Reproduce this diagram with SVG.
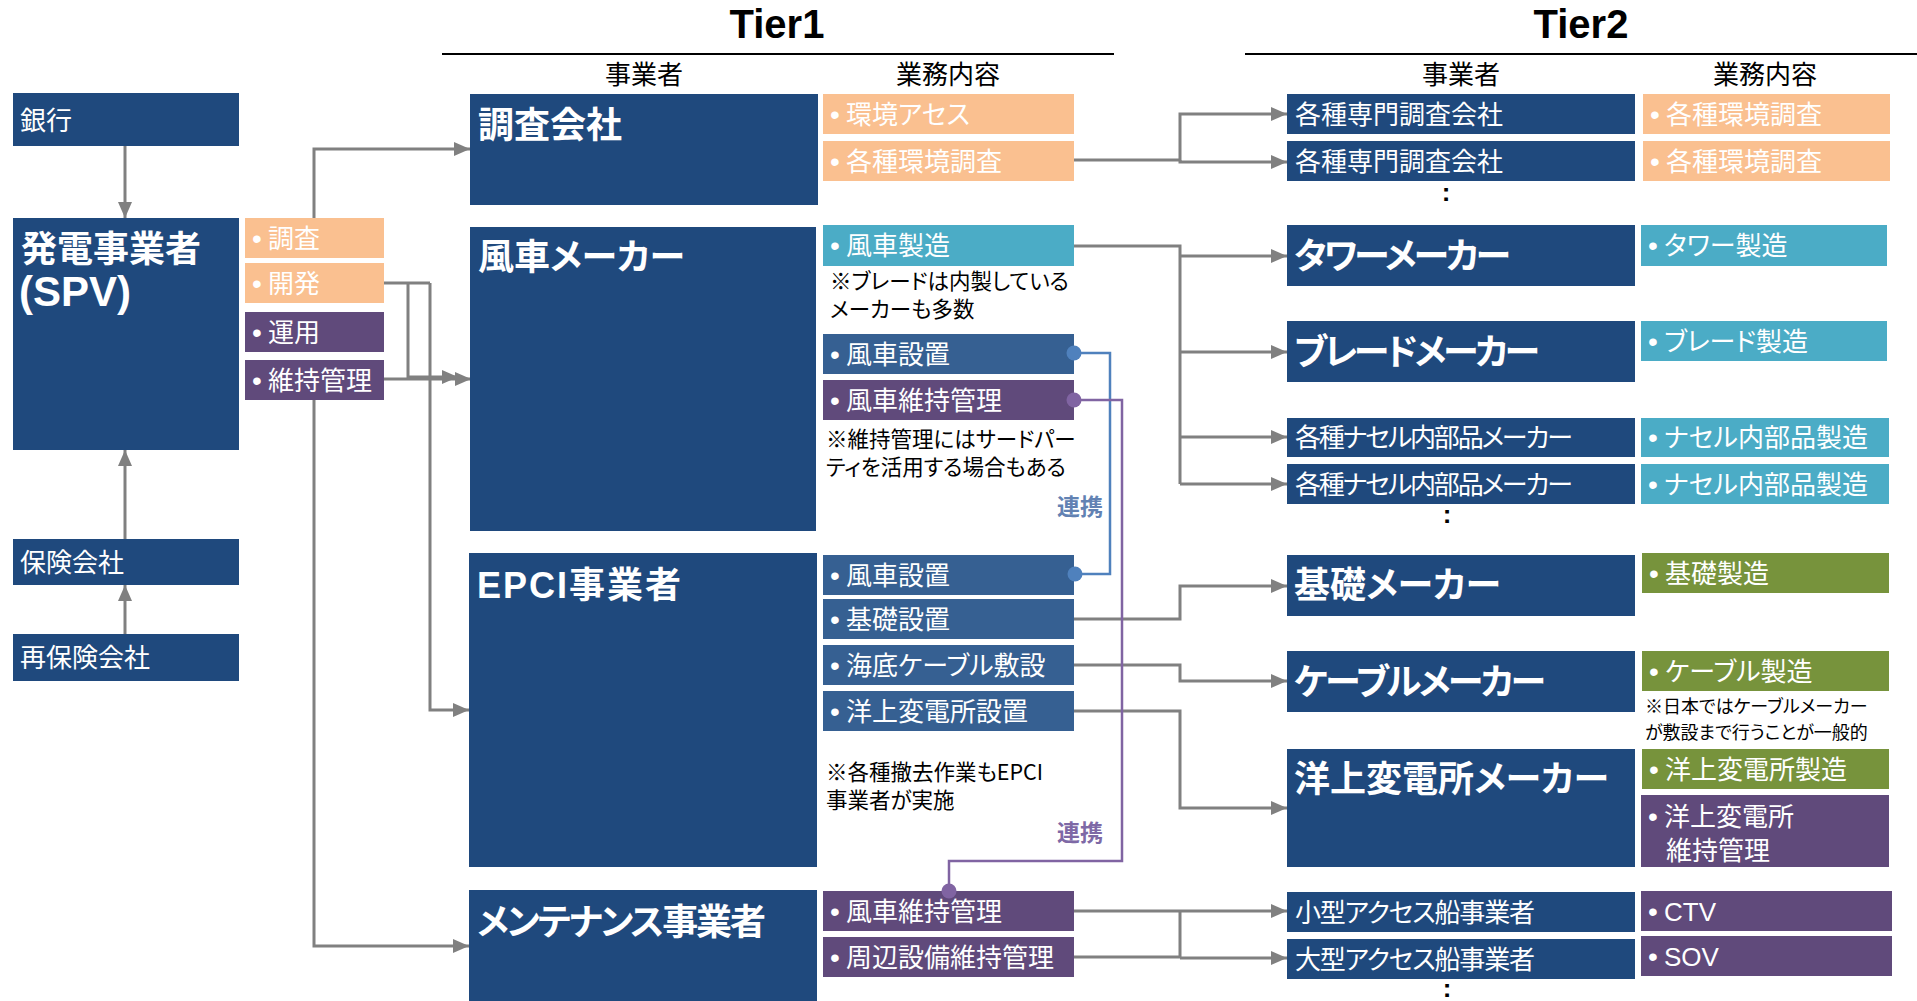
<svg xmlns="http://www.w3.org/2000/svg" width="1917" height="1001" viewBox="0 0 1917 1001">
<style>
text{font-family:"Noto Sans CJK JP","Noto Sans CJK SC",sans-serif;font-feature-settings:"palt";}
.navy{fill:#1f497d}
.peach{fill:#fac090}
.teal{fill:#4bacc6}
.purple{fill:#604a7b}
.mblue{fill:#366092}
.green{fill:#77933c}
.w{fill:#fff;font-size:26px}
.hb{fill:#fff;font-size:36px;font-weight:700}
.note{fill:#000;font-size:21.5px}
.hd{fill:#000;font-size:26px;text-anchor:middle}
.tier{fill:#000;font-family:"Liberation Sans",Arial,sans-serif;font-size:40px;font-weight:700;text-anchor:middle}
.bul{text-anchor:middle;font-family:"Liberation Sans",Arial,sans-serif;font-size:28px}
.lat{font-family:"Liberation Sans",Arial,sans-serif}
.dots{fill:#000;font-family:"Liberation Sans",Arial,sans-serif;font-size:26px;font-weight:700;text-anchor:middle}
.con{fill:none;stroke:#808080;stroke-width:3}
.arr{marker-end:url(#ah)}
.lb{fill:none;stroke:#4f81bd;stroke-width:2.5}
.lp{fill:none;stroke:#8064a2;stroke-width:2.5}
</style>
<defs>
<marker id="ah" markerUnits="userSpaceOnUse" markerWidth="16" markerHeight="14" refX="16" refY="7" orient="auto">
<path d="M0,0 L16,7 L0,14 z" fill="#808080"/>
</marker>
</defs>
<rect width="1917" height="1001" fill="#fff"/>

<!-- Headers -->
<g id="headers">
<text class="tier" x="777" y="38">Tier1</text>
<text class="tier" x="1581" y="38">Tier2</text>
<line x1="442" y1="54" x2="1114" y2="54" stroke="#000" stroke-width="2"/>
<line x1="1245" y1="54" x2="1917" y2="54" stroke="#000" stroke-width="2"/>
<text class="hd" x="644" y="84">事業者</text>
<text class="hd" x="948" y="84">業務内容</text>
<text class="hd" x="1461" y="84">事業者</text>
<text class="hd" x="1765" y="84">業務内容</text>
</g>

<!-- Connectors -->
<g id="connectors">
<path class="con arr" d="M125,146 V218"/>
<path class="con arr" d="M125,539 V450"/>
<path class="con arr" d="M125,634 V585"/>
<path class="con arr" d="M314,218 V149 H470"/>
<path class="con" d="M384,283 H430"/>
<path class="con arr" d="M408,283 V377 H458"/>
<path class="con arr" d="M430,283 V710 H469"/>
<path class="con arr" d="M384,379 H471"/>
<path class="con arr" d="M314,400 V946 H469"/>

<path class="con arr" d="M1074,160 H1180 V114 H1287"/>
<path class="con arr" d="M1180,160 V162 H1287"/>
<path class="con" d="M1074,246 H1180 V484"/>
<path class="con arr" d="M1180,256 H1287"/>
<path class="con arr" d="M1180,352 H1287"/>
<path class="con arr" d="M1180,437 H1287"/>
<path class="con arr" d="M1180,484 H1287"/>
<path class="con arr" d="M1074,619 H1180 V586 H1287"/>
<path class="con arr" d="M1074,665 H1180 V681 H1287"/>
<path class="con arr" d="M1074,711 H1180 V808 H1287"/>
<path class="con arr" d="M1074,911 H1287"/>
<path class="con arr" d="M1074,957 H1180 V911 M1180,958 H1287"/>

<path class="lb" d="M1074,353 H1110 V574 H1074"/>
<path class="lp" d="M1074,400 H1122 V861 H949 V891"/>
</g>

<!-- Left column -->
<g id="bank"><rect class="navy" x="13" y="93" width="226" height="53"/><text class="w" x="20" y="130">銀行</text></g>
<g id="spv"><rect class="navy" x="13" y="218" width="226" height="232"/>
<text class="hb" x="21" y="262">発電事業者</text>
<text class="hb lat" x="19" y="306" style="font-size:42px">(SPV)</text></g>
<g id="insurance"><rect class="navy" x="13" y="539" width="226" height="46"/><text class="w" x="20" y="572">保険会社</text></g>
<g id="reinsurance"><rect class="navy" x="13" y="634" width="226" height="47"/><text class="w" x="20" y="667">再保険会社</text></g>

<g id="spv-survey"><rect class="peach" x="245" y="218" width="139" height="40"/><text class="w"><tspan class="bul" x="257" y="248">•</tspan><tspan x="268" y="248">調査</tspan></text></g>
<g id="spv-dev"><rect class="peach" x="245" y="263" width="139" height="40"/><text class="w"><tspan class="bul" x="257" y="293">•</tspan><tspan x="268" y="293">開発</tspan></text></g>
<g id="spv-op"><rect class="purple" x="245" y="312" width="139" height="40"/><text class="w"><tspan class="bul" x="257" y="342">•</tspan><tspan x="268" y="342">運用</tspan></text></g>
<g id="spv-om"><rect class="purple" x="245" y="360" width="139" height="40"/><text class="w"><tspan class="bul" x="257" y="390">•</tspan><tspan x="268" y="390">維持管理</tspan></text></g>

<!-- Tier1 -->
<g id="t1-survey"><rect class="navy" x="470" y="94" width="348" height="111"/><text class="hb" x="478" y="138">調査会社</text></g>
<g id="t1-survey-eia"><rect class="peach" x="823" y="94" width="251" height="40"/><text class="w"><tspan class="bul" x="835" y="124">•</tspan><tspan x="846" y="124">環境アセス</tspan></text></g>
<g id="t1-survey-env"><rect class="peach" x="823" y="141" width="251" height="40"/><text class="w"><tspan class="bul" x="835" y="171">•</tspan><tspan x="846" y="171">各種環境調査</tspan></text></g>

<g id="t1-turbine"><rect class="navy" x="470" y="227" width="346" height="304"/><text class="hb" x="478" y="270">風車メーカー</text></g>
<g id="t1-turbine-mfg"><rect class="teal" x="823" y="225" width="251" height="41"/><text class="w"><tspan class="bul" x="835" y="255">•</tspan><tspan x="846" y="255">風車製造</tspan></text></g>
<g id="t1-turbine-note"><text class="note"><tspan x="830" y="289">※ブレードは内製している</tspan><tspan x="830" y="317">メーカーも多数</tspan></text></g>
<g id="t1-turbine-inst"><rect class="mblue" x="823" y="334" width="251" height="40"/><text class="w"><tspan class="bul" x="835" y="364">•</tspan><tspan x="846" y="364">風車設置</tspan></text></g>
<g id="t1-turbine-om"><rect class="purple" x="823" y="380" width="251" height="40"/><text class="w"><tspan class="bul" x="835" y="410">•</tspan><tspan x="846" y="410">風車維持管理</tspan></text></g>
<g id="t1-turbine-note2"><text class="note"><tspan x="826" y="447">※維持管理にはサードパー</tspan><tspan x="826" y="475">ティを活用する場合もある</tspan></text></g>

<g id="t1-epci"><rect class="navy" x="469" y="553" width="348" height="314"/><text class="hb" x="477" y="598" textLength="204"><tspan class="lat">EPCI</tspan>事業者</text></g>
<g id="t1-epci-inst"><rect class="mblue" x="823" y="555" width="251" height="40"/><text class="w"><tspan class="bul" x="835" y="585">•</tspan><tspan x="846" y="585">風車設置</tspan></text></g>
<g id="t1-epci-found"><rect class="mblue" x="823" y="599" width="251" height="40"/><text class="w"><tspan class="bul" x="835" y="629">•</tspan><tspan x="846" y="629">基礎設置</tspan></text></g>
<g id="t1-epci-cable"><rect class="mblue" x="823" y="645" width="251" height="40"/><text class="w"><tspan class="bul" x="835" y="675">•</tspan><tspan x="846" y="675">海底ケーブル敷設</tspan></text></g>
<g id="t1-epci-oss"><rect class="mblue" x="823" y="691" width="251" height="40"/><text class="w"><tspan class="bul" x="835" y="721">•</tspan><tspan x="846" y="721">洋上変電所設置</tspan></text></g>
<g id="t1-epci-note"><text class="note" x="826" y="780">※各種撤去作業もEPCI</text><text class="note" x="826" y="808">事業者が実施</text></g>

<g id="t1-maint"><rect class="navy" x="469" y="890" width="348" height="111"/><text class="hb" x="477" y="935" textLength="289">メンテナンス事業者</text></g>
<g id="t1-maint-om"><rect class="purple" x="823" y="891" width="251" height="40"/><text class="w"><tspan class="bul" x="835" y="921">•</tspan><tspan x="846" y="921">風車維持管理</tspan></text></g>
<g id="t1-maint-peri"><rect class="purple" x="823" y="937" width="251" height="40"/><text class="w"><tspan class="bul" x="835" y="967">•</tspan><tspan x="846" y="967">周辺設備維持管理</tspan></text></g>

<!-- link dots and labels -->
<g id="link-install">
<circle cx="1074" cy="353" r="7.5" fill="#4f81bd"/>
<circle cx="1075" cy="574" r="7.5" fill="#4f81bd"/>
<text x="1080" y="515" style="font-size:23px;font-weight:700;fill:#6282b3;text-anchor:middle">連携</text>
</g>
<g id="link-om">
<circle cx="1074" cy="400" r="7.5" fill="#8064a2"/>
<circle cx="949" cy="891" r="7.5" fill="#8064a2"/>
<text x="1080" y="841" style="font-size:23px;font-weight:700;fill:#7e69a6;text-anchor:middle">連携</text>
</g>

<!-- Tier2 -->
<g id="t2-survey1"><rect class="navy" x="1287" y="94" width="348" height="40"/><text class="w" x="1295" y="124">各種専門調査会社</text></g>
<g id="t2-survey1-f"><rect class="peach" x="1643" y="94" width="247" height="40"/><text class="w"><tspan class="bul" x="1655" y="124">•</tspan><tspan x="1666" y="124">各種環境調査</tspan></text></g>
<g id="t2-survey2"><rect class="navy" x="1287" y="141" width="348" height="40"/><text class="w" x="1295" y="171">各種専門調査会社</text></g>
<g id="t2-survey2-f"><rect class="peach" x="1643" y="141" width="247" height="40"/><text class="w"><tspan class="bul" x="1655" y="171">•</tspan><tspan x="1666" y="171">各種環境調査</tspan></text></g>
<text class="dots" x="1446" y="201">:</text>

<g id="t2-tower"><rect class="navy" x="1287" y="225" width="348" height="61"/><text class="hb" x="1294" y="269" textLength="217">タワーメーカー</text></g>
<g id="t2-tower-f"><rect class="teal" x="1641" y="225" width="246" height="41"/><text class="w"><tspan class="bul" x="1653" y="255">•</tspan><tspan x="1664" y="255">タワー製造</tspan></text></g>
<g id="t2-blade"><rect class="navy" x="1287" y="321" width="348" height="61"/><text class="hb" x="1294" y="365" textLength="246">ブレードメーカー</text></g>
<g id="t2-blade-f"><rect class="teal" x="1641" y="321" width="246" height="40"/><text class="w"><tspan class="bul" x="1653" y="351">•</tspan><tspan x="1664" y="351">ブレード製造</tspan></text></g>
<g id="t2-nacelle1"><rect class="navy" x="1287" y="418" width="348" height="39"/><text class="w" x="1295" y="447" textLength="278">各種ナセル内部品メーカー</text></g>
<g id="t2-nacelle1-f"><rect class="teal" x="1641" y="418" width="248" height="39"/><text class="w"><tspan class="bul" x="1653" y="447">•</tspan><tspan x="1664" y="447">ナセル内部品製造</tspan></text></g>
<g id="t2-nacelle2"><rect class="navy" x="1287" y="464" width="348" height="40"/><text class="w" x="1295" y="494" textLength="278">各種ナセル内部品メーカー</text></g>
<g id="t2-nacelle2-f"><rect class="teal" x="1641" y="464" width="248" height="40"/><text class="w"><tspan class="bul" x="1653" y="494">•</tspan><tspan x="1664" y="494">ナセル内部品製造</tspan></text></g>
<text class="dots" x="1447" y="523">:</text>

<g id="t2-found"><rect class="navy" x="1287" y="555" width="348" height="61"/><text class="hb" x="1294" y="598">基礎メーカー</text></g>
<g id="t2-found-f"><rect class="green" x="1642" y="553" width="247" height="40"/><text class="w"><tspan class="bul" x="1654" y="583">•</tspan><tspan x="1665" y="583">基礎製造</tspan></text></g>
<g id="t2-cable"><rect class="navy" x="1287" y="651" width="348" height="61"/><text class="hb" x="1294" y="695" textLength="252">ケーブルメーカー</text></g>
<g id="t2-cable-f"><rect class="green" x="1642" y="651" width="247" height="40"/><text class="w"><tspan class="bul" x="1654" y="681">•</tspan><tspan x="1665" y="681">ケーブル製造</tspan></text></g>
<g id="t2-cable-note"><text class="note" style="font-size:18px"><tspan x="1645" y="713">※日本ではケーブルメーカー</tspan><tspan x="1645" y="739">が敷設まで行うことが一般的</tspan></text></g>
<g id="t2-oss"><rect class="navy" x="1287" y="749" width="348" height="118"/><text class="hb" x="1294" y="792">洋上変電所メーカー</text></g>
<g id="t2-oss-f"><rect class="green" x="1642" y="749" width="247" height="40"/><text class="w"><tspan class="bul" x="1654" y="779">•</tspan><tspan x="1665" y="779">洋上変電所製造</tspan></text></g>
<g id="t2-oss-om"><rect class="purple" x="1641" y="795" width="248" height="72"/><text class="w"><tspan class="bul" x="1653" y="826">•</tspan><tspan x="1664" y="826">洋上変電所</tspan></text><text class="w" x="1666" y="860">維持管理</text></g>

<g id="t2-ctv"><rect class="navy" x="1287" y="892" width="348" height="40"/><text class="w" x="1295" y="922" textLength="240">小型アクセス船事業者</text></g>
<g id="t2-ctv-f"><rect class="purple" x="1641" y="891" width="251" height="40"/><text class="w"><tspan class="bul" x="1653" y="921">•</tspan><tspan class="lat" x="1664" y="921">CTV</tspan></text></g>
<g id="t2-sov"><rect class="navy" x="1287" y="939" width="348" height="40"/><text class="w" x="1295" y="969" textLength="240">大型アクセス船事業者</text></g>
<g id="t2-sov-f"><rect class="purple" x="1641" y="936" width="251" height="40"/><text class="w"><tspan class="bul" x="1653" y="966">•</tspan><tspan class="lat" x="1664" y="966">SOV</tspan></text></g>
<text class="dots" x="1447" y="997">:</text>
</svg>
